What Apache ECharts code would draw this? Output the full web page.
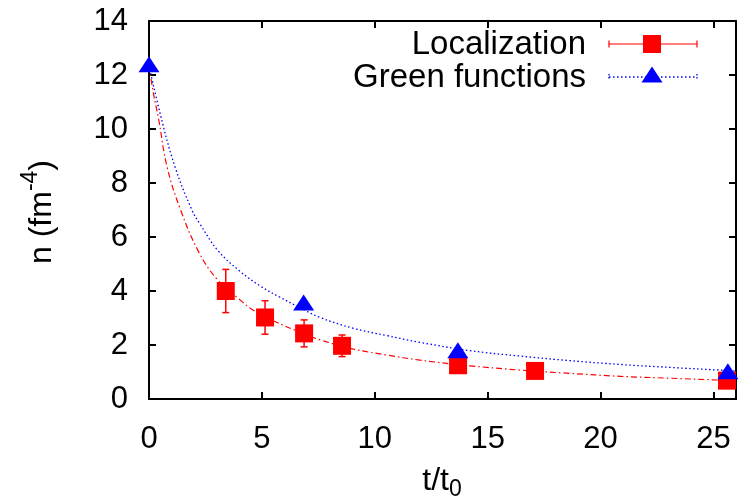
<!DOCTYPE html>
<html><head><meta charset="utf-8">
<script src="https://cdn.jsdelivr.net/npm/echarts@6/dist/echarts.min.js"></script>
<style>html,body{margin:0;padding:0;background:#fff}#c{width:739px;height:501px}</style>
</head><body><div id="c"></div>
<script>
// ---- data ----
const locX   = [3.4, 5.14, 6.87, 8.55, 13.69, 17.1, 25.6];
const locY   = [4.0, 3.02, 2.43, 1.97, 1.25, 1.04, 0.68];
const locErr = [0.8, 0.62, 0.5, 0.4, 0.12, 0.1, 0.08];
const greenX = [0, 6.85, 13.68, 25.64];
const greenY = [12.3, 3.47, 1.71, 0.93];
const fitLocX = [0, 0.2, 0.42, 0.8, 1.4, 2.2, 3.0, 4.03, 4.6, 5.5, 6.9, 7.58, 9.05, 10.53, 12.0, 14.22, 16.44, 18.65, 20.87, 23.08, 25.3, 26];
const fitLocY = [12.35, 11.3, 10.4, 8.6, 7.0, 5.45, 4.45, 3.67, 3.3, 2.9, 2.4, 2.19, 1.85, 1.63, 1.44, 1.23, 1.07, 0.95, 0.84, 0.77, 0.70, 0.68];
const fitGreenX = [0, 0.5, 1.15, 1.9, 2.26, 3.05, 4.0, 4.92, 5.8, 6.69, 7.58, 9.05, 10.53, 12.0, 14.22, 16.44, 18.65, 20.87, 23.08, 25.3, 26];
const fitGreenY = [12.35, 10.55, 8.6, 7.0, 6.48, 5.5, 4.75, 4.19, 3.77, 3.38, 3.02, 2.62, 2.35, 2.1, 1.79, 1.59, 1.42, 1.28, 1.17, 1.07, 1.04];
const legendNames = ['Localization', 'Green functions'];
const xRange = [0, 26], xStep = 5;
const yRange = [0, 14], yStep = 2;

const FONT = 'Liberation Sans';
const FS = 31;
const RED = '#ff0000', BLUE = '#0000ff';

const zip = (a, b) => a.map((v, i) => [v, b[i]]);
const chart = echarts.init(document.getElementById('c'), null, {renderer: 'canvas'});

const axisCommon = {
  type: 'value', splitLine: {show: false},
  axisLine: {show: true, onZero: false, lineStyle: {color: '#000', width: 2}},
  axisTick: {show: true, inside: true, length: 7, lineStyle: {color: '#000', width: 2}}
};

chart.setOption({
  animation: false,
  backgroundColor: '#fff',
  grid: {left: 149, right: 3, top: 21, bottom: 102, containLabel: false},
  xAxis: [
    Object.assign({}, axisCommon, {min: xRange[0], max: xRange[1], interval: xStep, position: 'bottom',
      axisLabel: {show: true, margin: 25, color: '#000', fontFamily: FONT, fontSize: FS, showMaxLabel: false, hideOverlap: false}}),
    Object.assign({}, axisCommon, {min: xRange[0], max: xRange[1], interval: xStep, position: 'top',
      axisLabel: {show: false}})
  ],
  yAxis: [
    Object.assign({}, axisCommon, {min: yRange[0], max: yRange[1], interval: yStep, position: 'left',
      axisLabel: {show: true, margin: 21, color: '#000', fontFamily: FONT, fontSize: FS, hideOverlap: false}}),
    Object.assign({}, axisCommon, {min: yRange[0], max: yRange[1], interval: yStep, position: 'right',
      axisLabel: {show: false}})
  ],
  series: [
    {type: 'line', name: 'fitLoc', data: zip(fitLocX, fitLocY), showSymbol: false, smooth: 0.4,
      lineStyle: {color: RED, width: 1.2, type: [6, 3, 1.5, 3]}, z: 2, silent: true},
    {type: 'line', name: 'fitGreen', data: zip(fitGreenX, fitGreenY), showSymbol: false, smooth: 0.4,
      lineStyle: {color: BLUE, width: 1.3, type: [1.5, 2.5]}, z: 2, silent: true},
    {type: 'custom', name: 'err', data: locX.map((x, i) => [x, locY[i], locErr[i]]), z: 3, clip: false,
      renderItem: function (params, api) {
        const x = api.value(0), y = api.value(1), e = api.value(2);
        const t = api.coord([x, y + e]), b = api.coord([x, y - e]);
        const w = 3.5, st = {stroke: RED, lineWidth: 1.5};
        return {type: 'group', children: [
          {type: 'line', shape: {x1: t[0], y1: t[1], x2: b[0], y2: b[1]}, style: st},
          {type: 'line', shape: {x1: t[0] - w, y1: t[1], x2: t[0] + w, y2: t[1]}, style: st},
          {type: 'line', shape: {x1: b[0] - w, y1: b[1], x2: b[0] + w, y2: b[1]}, style: st}
        ]};
      }},
    {type: 'scatter', name: legendNames[0], data: zip(locX, locY), symbol: 'rect', symbolSize: 18,
      itemStyle: {color: RED, opacity: 1}, z: 4, clip: false},
    {type: 'scatter', name: legendNames[1], data: zip(greenX, greenY), symbol: 'triangle', symbolSize: [21, 16],
      symbolOffset: [0, -2.7], itemStyle: {color: BLUE, opacity: 1}, z: 5, clip: false}
  ],
  graphic: [
    // axis titles
    {type: 'text', x: 442, y: 501, style: {text: 't/t{sub|0}', align: 'center', verticalAlign: 'bottom',
      fontFamily: FONT, fontSize: 32, fill: '#000', lineHeight: 40,
      rich: {sub: {fontFamily: FONT, fontSize: 23, lineHeight: 23, verticalAlign: 'bottom', fill: '#000'}}}},
    {type: 'text', x: 42, y: 212, rotation: Math.PI / 2,
      style: {text: 'n (fm{sup|-4})', align: 'center', verticalAlign: 'middle', fontFamily: FONT, fontSize: 32, fill: '#000', lineHeight: 46,
        rich: {sup: {fontFamily: FONT, fontSize: 23, lineHeight: 23, verticalAlign: 'top', fill: '#000'}}}},
    // legend
    {type: 'text', x: 586, y: 45, style: {text: legendNames[0], align: 'right', verticalAlign: 'middle', fontFamily: FONT, fontSize: 33, fill: '#000'}},
    {type: 'text', x: 586, y: 78, style: {text: legendNames[1], align: 'right', verticalAlign: 'middle', fontFamily: FONT, fontSize: 33, fill: '#000'}},
    {type: 'line', shape: {x1: 609, y1: 44, x2: 697, y2: 44}, style: {stroke: RED, lineWidth: 1.2}},
    {type: 'line', shape: {x1: 609, y1: 40.5, x2: 609, y2: 47.5}, style: {stroke: RED, lineWidth: 1.2}},
    {type: 'line', shape: {x1: 697, y1: 40.5, x2: 697, y2: 47.5}, style: {stroke: RED, lineWidth: 1.2}},
    {type: 'rect', shape: {x: 643, y: 35, width: 18, height: 18}, style: {fill: RED}},
    {type: 'line', shape: {x1: 609, y1: 77, x2: 697, y2: 77}, style: {stroke: BLUE, lineWidth: 1.3, lineDash: [1.5, 2.5]}},
    {type: 'line', shape: {x1: 609, y1: 74, x2: 609, y2: 80}, style: {stroke: BLUE, lineWidth: 1.3, lineDash: [1.5, 1.5]}},
    {type: 'line', shape: {x1: 697, y1: 74, x2: 697, y2: 80}, style: {stroke: BLUE, lineWidth: 1.3, lineDash: [1.5, 1.5]}},
    {type: 'polygon', shape: {points: [[652, 66.5], [641.5, 82.5], [662.5, 82.5]]}, style: {fill: BLUE}}
  ]
});
</script>
</body></html>
